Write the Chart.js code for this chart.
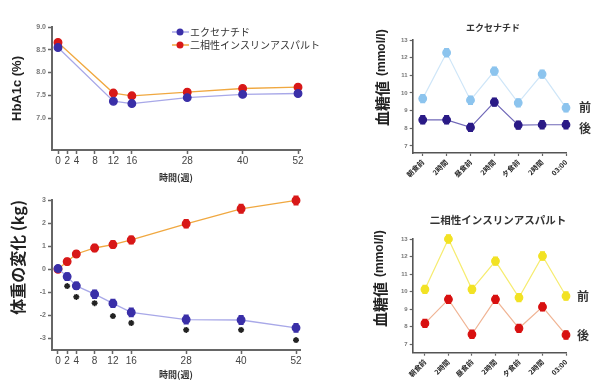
<!DOCTYPE html>
<html>
<head>
<meta charset="utf-8">
<script src="https://cdn.jsdelivr.net/npm/chart.js@4.4.0/dist/chart.umd.min.js"></script>
<style>
  html, body { margin: 0; padding: 0; background: #fff; }
  #wrap { position: relative; width: 591px; height: 382px; overflow: hidden; }
  canvas { position: absolute; }
</style>
</head>
<body>
<div id="wrap">
  <canvas id="hba" width="340" height="185" style="left:0;top:0"></canvas>
  <canvas id="wt" width="340" height="197" style="left:0;top:185px"></canvas>
  <canvas id="ex" width="231" height="190" style="left:360px;top:0"></canvas>
  <canvas id="ins" width="231" height="192" style="left:360px;top:190px"></canvas>
</div>
<script>
// 週 (x)
const weeks = [0, 2, 4, 8, 12, 16, 28, 40, 52];
const hbaWeeks = [0, 12, 16, 28, 40, 52];
const hbaTicks = [7.0, 7.5, 8.0, 8.5, 9.0];
const hbaExenatide = [8.55, 7.37, 7.32, 7.45, 7.52, 7.54];
const hbaInsulin = [8.66, 7.55, 7.49, 7.57, 7.65, 7.68];

const wtTicks = [-3, -2, -1, 0, 1, 2, 3];
const wtExenatide = [0.03, -0.32, -0.72, -1.08, -1.48, -1.87, -2.18, -2.2, -2.54];
const wtExenatideErr = [0, 0.15, 0.15, 0.17, 0.17, 0.18, 0.18, 0.18, 0.18];
const wtInsulin = [0, 0.33, 0.66, 0.92, 1.07, 1.27, 1.97, 2.62, 2.98];
const wtInsulinErr = [0, 0.13, 0.13, 0.15, 0.15, 0.16, 0.17, 0.18, 0.18];
const wtStars = [null, -0.73, -1.2, -1.47, -2.03, -2.33, -2.63, -2.63, -3.07];

const mealLabels = ['朝食前', '2時間', '昼食前', '2時間', '夕食前', '2時間', '03:00'];
const glucoseTicks = [7, 8, 9, 10, 11, 12, 13];
const exBefore = [9.68, 12.28, 9.59, 11.24, 9.44, 11.07, 9.16];
const exAfter = [8.48, 8.48, 8.05, 9.48, 8.18, 8.2, 8.2];
const insBefore = [10.13, 13.0, 10.13, 11.74, 9.66, 12.03, 9.75];
const insAfter = [8.19, 9.56, 7.57, 9.56, 7.91, 9.13, 7.53];
const glucoseErr = [0.22, 0.22, 0.22, 0.22, 0.22, 0.22, 0.22];

const FONT = "'Liberation Sans', 'Noto Sans CJK JP', sans-serif";
const CJK = "'Noto Sans CJK JP', sans-serif";

const pts = (xs, ys) => xs.map((x, i) => ({ x: x, y: ys[i] }));

const errorBars = {
  id: 'errorBars',
  afterDatasetsDraw(chart) {
    const ctx = chart.ctx;
    const y = chart.scales.y;
    chart.data.datasets.forEach((ds, i) => {
      if (!ds.errors) return;
      const meta = chart.getDatasetMeta(i);
      ctx.save();
      ctx.strokeStyle = ds.pointBackgroundColor;
      ctx.lineWidth = 1.6;
      meta.data.forEach((p, j) => {
        const e = ds.errors[j];
        if (!e) return;
        const v = ds.data[j].y;
        const t = y.getPixelForValue(v + e), b = y.getPixelForValue(v - e);
        ctx.beginPath();
        ctx.moveTo(p.x, t); ctx.lineTo(p.x, b);
        ctx.moveTo(p.x - 2.5, t); ctx.lineTo(p.x + 2.5, t);
        ctx.moveTo(p.x - 2.5, b); ctx.lineTo(p.x + 2.5, b);
        ctx.stroke();
      });
      ctx.restore();
    });
  }
};

const textMarks = {
  id: 'textMarks',
  afterDraw(chart, args, opts) {
    const ctx = chart.ctx;
    (opts.items || []).forEach(t => {
      ctx.save();
      ctx.translate(t.x, t.y);
      if (t.rotate) ctx.rotate(t.rotate);
      ctx.font = t.font;
      ctx.fillStyle = t.color || '#222';
      ctx.textAlign = t.align || 'center';
      ctx.textBaseline = 'middle';
      ctx.fillText(t.text, 0, 0);
      ctx.restore();
    });
  }
};

const lineLegend = {
  id: 'lineLegend',
  afterDraw(chart, args, opts) {
    const ctx = chart.ctx;
    chart.data.datasets.forEach((ds, i) => {
      const y = opts.y + i * opts.gap;
      ctx.save();
      ctx.strokeStyle = ds.borderColor;
      ctx.lineWidth = 1.5;
      ctx.beginPath(); ctx.moveTo(opts.x, y); ctx.lineTo(opts.x + 17, y); ctx.stroke();
      ctx.fillStyle = ds.pointBackgroundColor;
      ctx.beginPath(); ctx.arc(opts.x + 8, y, 3.5, 0, Math.PI * 2); ctx.fill();
      ctx.fillStyle = '#333';
      ctx.font = '10px ' + CJK;
      ctx.textBaseline = 'middle';
      ctx.fillText(ds.label, opts.x + 18, y);
      ctx.restore();
    });
  }
};

function axisBase() {
  return {
    grid: { drawOnChartArea: false, color: '#666', tickLength: 4, tickWidth: 1.5 },
    border: { color: '#666', width: 2 }
  };
}

function weekAxis(min, max, h) {
  return Object.assign(axisBase(), {
    type: 'linear', min: min, max: max,
    afterBuildTicks: s => { s.ticks = weeks.map(v => ({ value: v })); },
    afterFit: s => { s.height = h; },
    ticks: { autoSkip: false, maxRotation: 0, padding: 1, color: '#444', font: { size: 10, family: FONT } },
    title: { display: true, text: '時間(週)', color: '#333', font: { size: 9, weight: 'bold', family: CJK }, padding: { top: 0, bottom: 2 } }
  });
}

// HbA1c
new Chart(document.getElementById('hba'), {
  type: 'line',
  data: {
    datasets: [
      { label: 'エクセナチド', data: pts(hbaWeeks, hbaExenatide), borderColor: '#a8a8e8', borderWidth: 1.3, clip: false,
        pointBackgroundColor: '#3a2fa8', pointBorderColor: '#3a2fa8', pointRadius: 3.8 },
      { label: '二相性インスリンアスパルト', data: pts(hbaWeeks, hbaInsulin), borderColor: '#f0a840', borderWidth: 1.3, clip: false,
        pointBackgroundColor: '#d81818', pointBorderColor: '#d81818', pointRadius: 3.8 }
    ]
  },
  options: {
    responsive: false, animation: false,
    layout: { padding: { top: 27, right: 40, left: 0, bottom: 0 } },
    plugins: { legend: { display: false }, tooltip: { enabled: false },
      lineLegend: { x: 172, y: 32, gap: 13 } },
    scales: {
      x: weekAxis(-1.3, 52.43, 35),
      y: Object.assign(axisBase(), {
        min: 6.3, max: 9.0,
        afterBuildTicks: s => { s.ticks = hbaTicks.map(v => ({ value: v })); },
        afterFit: s => { s.width = 52; },
        ticks: { callback: v => v.toFixed(1), color: '#777', padding: 2, font: { size: 7, weight: 'bold', family: FONT } },
        title: { display: true, text: 'HbA1c (%)', color: '#222', font: { size: 13, weight: 'bold', family: FONT }, padding: { top: 10 } }
      })
    }
  },
  plugins: [lineLegend]
});

// 体重の変化
new Chart(document.getElementById('wt'), {
  type: 'line',
  data: {
    datasets: [
      { label: 'エクセナチド', data: pts(weeks, wtExenatide), errors: wtExenatideErr, borderColor: '#a8a8e8', borderWidth: 1.3, clip: false,
        pointBackgroundColor: '#3a2fa8', pointBorderColor: '#3a2fa8', pointRadius: 3.8 },
      { label: '二相性インスリンアスパルト', data: pts(weeks, wtInsulin), errors: wtInsulinErr, borderColor: '#f0a840', borderWidth: 1.3, clip: false,
        pointBackgroundColor: '#d81818', pointBorderColor: '#d81818', pointRadius: 3.8 },
      { label: '*', data: pts(weeks, wtStars), showLine: false, pointStyle: 'star', pointRadius: 3, clip: false,
        pointBorderColor: '#222', pointBorderWidth: 1.6, borderColor: '#222' }
    ]
  },
  options: {
    responsive: false, animation: false,
    layout: { padding: { top: 15, right: 40, left: 0, bottom: 0 } },
    plugins: { legend: { display: false }, tooltip: { enabled: false } },
    scales: {
      x: weekAxis(-1.31, 52.87, 32),
      y: Object.assign(axisBase(), {
        min: -3.5, max: 3.0,
        afterBuildTicks: s => { s.ticks = wtTicks.map(v => ({ value: v })); },
        afterFit: s => { s.width = 52; },
        ticks: { color: '#777', padding: 2, font: { size: 7, weight: 'bold', family: FONT } },
        title: { display: true, align: 'end', text: '体重の変化 (kg)', color: '#222', font: { size: 16, weight: 'bold', family: CJK }, padding: { top: 8 } }
      })
    }
  },
  plugins: [errorBars]
});

function glucoseChart(id, title, before, after, colors, o) {
  new Chart(document.getElementById(id), {
    type: 'line',
    data: {
      datasets: [
        { label: '後', data: pts(mealLabels.map((_, i) => i), after), errors: glucoseErr, borderColor: colors.afterLine, borderWidth: 1.2, clip: false,
          pointBackgroundColor: colors.after, pointBorderColor: colors.after, pointRadius: 3.8 },
        { label: '前', data: pts(mealLabels.map((_, i) => i), before), errors: glucoseErr, borderColor: colors.beforeLine, borderWidth: 1.2, clip: false,
          pointBackgroundColor: colors.before, pointBorderColor: colors.before, pointRadius: 3.8 }
      ]
    },
    options: {
      responsive: false, animation: false,
      layout: { padding: { top: o.top, right: 25, left: 0, bottom: 0 } },
      plugins: {
        legend: { display: false }, tooltip: { enabled: false },
        textMarks: { items: [
          { text: title, x: o.tx, y: o.ty, font: o.tfont, color: '#333' },
          { text: '血糖値', x: o.yx, y: o.yb, rotate: -Math.PI / 2, align: 'left', font: 'bold 15px ' + CJK },
          { text: '(mmol/l)', x: o.yx, y: o.yb - 50, rotate: -Math.PI / 2, align: 'left', font: 'bold 12px ' + FONT },
          { text: '前', x: o.lx, y: o.before, font: 'bold 12px ' + CJK, color: '#333' },
          { text: '後', x: o.lx, y: o.after, font: 'bold 12px ' + CJK, color: '#333' }
        ] }
      },
      scales: {
        x: {
          type: 'linear', min: o.xmin, max: 6,
          afterBuildTicks: s => { s.ticks = mealLabels.map((_, i) => ({ value: i })); },
          afterFit: s => { s.height = o.xh; },
          grid: { drawOnChartArea: false, color: '#666', tickLength: 3, tickWidth: 1.2 },
          border: { color: '#555', width: 1.6 },
          ticks: { autoSkip: false, minRotation: 45, maxRotation: 45, padding: 2, color: '#222',
            callback: v => mealLabels[v], font: { size: 7, weight: 'bold', family: CJK } }
        },
        y: {
          min: o.ymin, max: 13,
          afterBuildTicks: s => { s.ticks = glucoseTicks.map(v => ({ value: v })); },
          afterFit: s => { s.width = 52.7; },
          grid: { drawOnChartArea: false, color: '#666', tickLength: 3, tickWidth: 1.2 },
          border: { color: '#555', width: 1.6 },
          ticks: { color: '#777', padding: 2, font: { size: 6, weight: 'bold', family: FONT } }
        }
      }
    },
    plugins: [errorBars, textMarks]
  });
}

glucoseChart('ex', 'エクセナチド', exBefore, exAfter,
  { before: '#8cc4ee', beforeLine: '#cfe6f8', after: '#2a1a86', afterLine: '#7068b8' },
  { top: 40, xh: 37, xmin: -0.42, ymin: 6.6, tx: 133, ty: 28, tfont: '600 9px ' + CJK,
    yx: 22, yb: 126, lx: 225, before: 107, after: 128 });

glucoseChart('ins', '二相性インスリンアスパルト', insBefore, insAfter,
  { before: '#f2e224', beforeLine: '#f6ec70', after: '#d81010', afterLine: '#f0b494' },
  { top: 49, xh: 29.3, xmin: -0.52, ymin: 6.52, tx: 138, ty: 30, tfont: 'bold 10.5px ' + CJK,
    yx: 20, yb: 137, lx: 223, before: 106, after: 145 });
</script>
</body>
</html>
